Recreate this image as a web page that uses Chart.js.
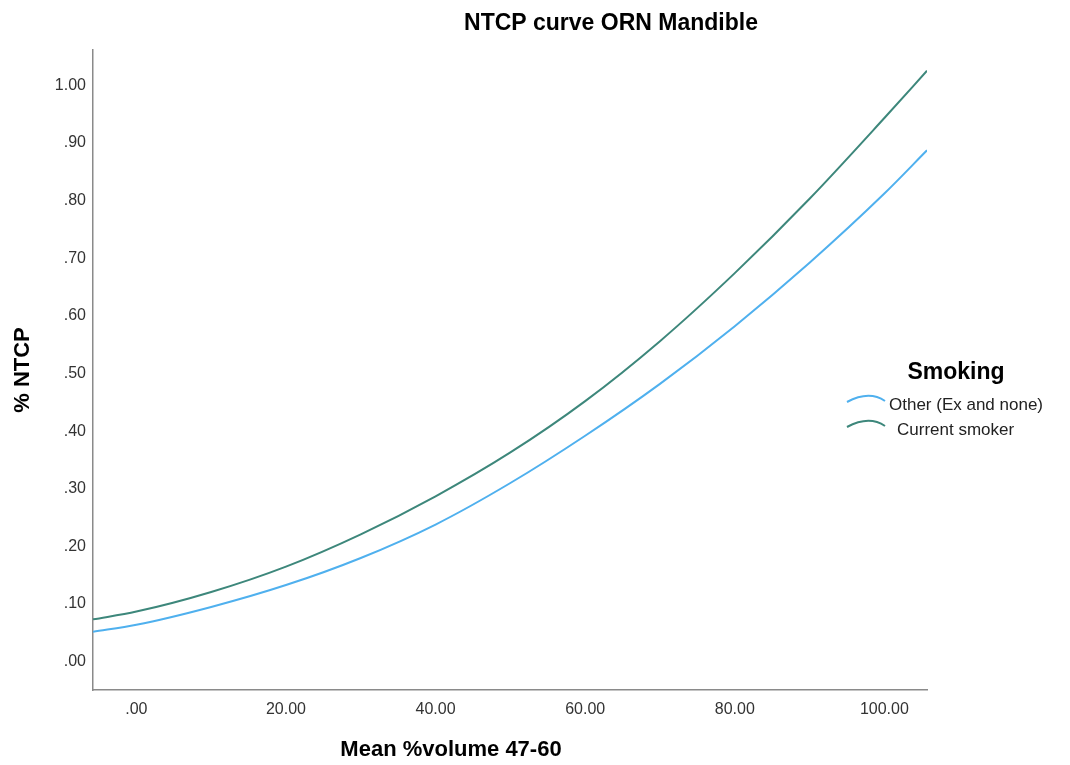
<!DOCTYPE html>
<html>
<head>
<meta charset="utf-8">
<title>NTCP curve ORN Mandible</title>
<script src="https://cdn.jsdelivr.net/npm/chart.js@4.4.1/dist/chart.umd.min.js"></script>
<style>
    body { margin: 0; background: #fff; }
    #grafico { display: block; }
</style>
</head>
<body>
<canvas id="grafico" width="1070" height="765"></canvas>
<script>
/* datos */
var xValues = [-5.8, 0, 10, 20, 30, 40, 50, 60, 70, 80, 90, 100, 105.7];
var otherValues = [0.052, 0.064, 0.095, 0.133, 0.180, 0.238, 0.310, 0.392, 0.482, 0.582, 0.692, 0.812, 0.887];
var smokerValues = [0.0735, 0.087, 0.121, 0.165, 0.221, 0.287, 0.363, 0.452, 0.556, 0.674, 0.803, 0.943, 1.025];
var seriesNames = ["Other (Ex and none)", "Current smoker"];
var xTicks = [0, 20, 40, 60, 80, 100];
var yTicks = [0, 0.1, 0.2, 0.3, 0.4, 0.5, 0.6, 0.7, 0.8, 0.9, 1.0];

var FONT = "'Liberation Sans', Arial, sans-serif";
var BLUE = "#4fb0ee";
var GREEN = "#3d877b";

function spssLabel(v) {
    var s = v.toFixed(2);
    return s.indexOf("0.") === 0 ? s.substring(1) : s;
}

function puntos(valores) {
    return xValues.map(function (x, i) {
        return { x: x, y: valores[i] };
    });
}

/* textos: título, eje x y leyenda */
var textos = {
    id: "textos",
    afterDraw: function (chart) {
        var ctx = chart.ctx;
        ctx.save();
        ctx.fillStyle = "#000";
        ctx.textBaseline = "middle";

        ctx.textAlign = "center";
        ctx.font = "bold 23px " + FONT;
        ctx.fillText("NTCP curve ORN Mandible", 611, 24);

        ctx.font = "bold 22px " + FONT;
        ctx.fillText("Mean %volume 47-60", 451, 750);

        ctx.font = "bold 23px " + FONT;
        ctx.fillText("Smoking", 956, 373);

        // leyenda con iconos de curva
        var items = [
            { color: BLUE, icon: 847, text: 889, y: 405 },
            { color: GREEN, icon: 847, text: 897, y: 430 }
        ];
        ctx.font = "17px " + FONT;
        ctx.textAlign = "left";
        items.forEach(function (it, i) {
            ctx.strokeStyle = it.color;
            ctx.lineWidth = 2;
            ctx.beginPath();
            ctx.moveTo(it.icon, it.y - 3);
            ctx.quadraticCurveTo(it.icon + 22, it.y - 15, it.icon + 38, it.y - 4);
            ctx.stroke();
            ctx.fillStyle = "#222";
            ctx.fillText(seriesNames[i], it.text, it.y);
        });
        ctx.restore();
    }
};

function cargaGrafico() {
    var datos = {
        datasets: [{
            label: seriesNames[0],
            data: puntos(otherValues),
            borderColor: BLUE,
            borderWidth: 2,
            pointRadius: 0,
            cubicInterpolationMode: "monotone",
            fill: false
        }, {
            label: seriesNames[1],
            data: puntos(smokerValues),
            borderColor: GREEN,
            borderWidth: 2,
            pointRadius: 0,
            cubicInterpolationMode: "monotone",
            fill: false
        }]
    };

    var config = {
        type: "line",
        data: datos,
        options: {
            responsive: false,
            animation: false,
            layout: {
                padding: { left: 0, right: 143, top: 50, bottom: 0 }
            },
            plugins: {
                legend: { display: false },
                title: { display: false },
                tooltip: { enabled: false }
            },
            scales: {
                x: {
                    type: "linear",
                    min: -5.8,
                    max: 105.7,
                    afterFit: function (scale) { scale.height = 75; },
                    afterBuildTicks: function (scale) {
                        scale.ticks = xTicks.map(function (v) { return { value: v }; });
                    },
                    grid: { display: false, drawTicks: false },
                    border: { color: "#8a8a8a", width: 1.5 },
                    ticks: {
                        padding: 10,
                        maxRotation: 0,
                        color: "#333",
                        font: { family: FONT, size: 16 },
                        callback: function (v) { return spssLabel(v); }
                    }
                },
                y: {
                    min: -0.049,
                    max: 1.061,
                    afterFit: function (scale) { scale.width = 93; },
                    afterBuildTicks: function (scale) {
                        scale.ticks = yTicks.map(function (v) { return { value: v }; });
                    },
                    grid: { display: false, drawTicks: false },
                    border: { color: "#8a8a8a", width: 1.5 },
                    title: {
                        display: true,
                        text: "% NTCP",
                        color: "#000",
                        padding: { top: 10, bottom: 0 },
                        font: { family: FONT, size: 22, weight: "bold" }
                    },
                    ticks: {
                        padding: 7,
                        color: "#333",
                        font: { family: FONT, size: 16 },
                        callback: function (v) { return spssLabel(v); }
                    }
                }
            }
        },
        plugins: [textos]
    };

    new Chart(document.getElementById("grafico").getContext("2d"), config);
}

cargaGrafico();
</script>
</body>
</html>
